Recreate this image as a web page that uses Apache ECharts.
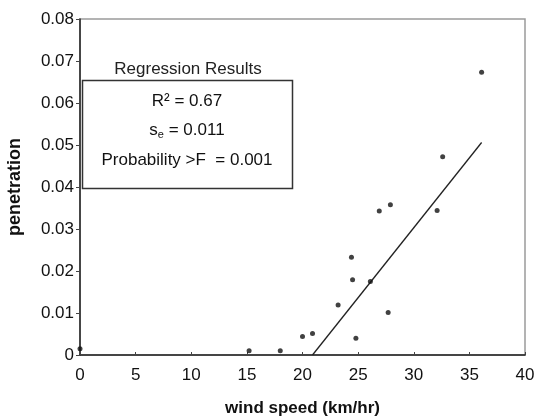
<!DOCTYPE html>
<html><head><meta charset="utf-8">
<script src="https://cdn.jsdelivr.net/npm/echarts@6/dist/echarts.min.js"></script>
<style>html,body{margin:0;padding:0;background:#fff}#c{width:552px;height:418px}</style>
</head><body><div id="c"></div>
<script>
var windSpeed   = [0, 15.2, 18.0, 20.0, 20.9, 23.2, 24.4, 24.5, 24.8, 26.1, 26.9, 27.9, 27.7, 32.1, 32.6, 36.1];
var penetration = [0.0015, 0.0010, 0.0010, 0.0044, 0.0051, 0.0119, 0.0233, 0.0179, 0.0040, 0.0175, 0.0343, 0.0358, 0.0101, 0.0344, 0.0472, 0.0673];
var fitX = [20.9, 36.1];
var fitY = [0, 0.0506];
var xTicks = [0,5,10,15,20,25,30,35,40];
var yTicks = [0,0.01,0.02,0.03,0.04,0.05,0.06,0.07,0.08];
var statsTitle = 'Regression Results';
var statsLines = ['R² = 0.67', 's{sub|e} = 0.011', 'Probability >F  = 0.001'];

var pts = windSpeed.map(function(x,i){return [x, penetration[i]];});
var fit = fitX.map(function(x,i){return [x, fitY[i]];});
var F = 'Liberation Sans, Arial, sans-serif';
var chart = echarts.init(document.getElementById('c'), null, {renderer:'canvas'});
chart.setOption({
  animation:false,
  backgroundColor:'#fff',
  grid:{left:80,right:27,top:19,bottom:63,show:true,borderColor:'#9a9a9a',borderWidth:1.5,backgroundColor:'transparent',
    containLabel:false,outerBoundsMode:'none'},
  xAxis:{type:'value',min:xTicks[0],max:xTicks[xTicks.length-1],interval:5,
    name:'wind speed (km/hr)',nameLocation:'middle',nameGap:45,
    nameTextStyle:{fontFamily:F,fontSize:17,fontWeight:'bold',color:'#111'},
    axisLine:{lineStyle:{color:'#222',width:1.5}},
    axisTick:{show:true,inside:true,length:3,lineStyle:{color:'#444'}},
    axisLabel:{fontFamily:F,fontSize:17,color:'#111',margin:12},
    splitLine:{show:false}},
  yAxis:{type:'value',min:yTicks[0],max:yTicks[yTicks.length-1],interval:0.01,
    name:'penetration',nameLocation:'middle',nameGap:56,nameRotate:90,
    nameTextStyle:{fontFamily:F,fontSize:18,fontWeight:'bold',color:'#111'},
    axisLine:{lineStyle:{color:'#222',width:1.5}},
    axisTick:{show:true,length:4,lineStyle:{color:'#444'}},
    axisLabel:{fontFamily:F,fontSize:17,color:'#111',margin:6,
      formatter:function(v){return v===0?'0':v.toFixed(2);}},
    splitLine:{show:false}},
  series:[
    {type:'scatter',data:pts,symbolSize:5,itemStyle:{color:'#111'},z:3},
    {type:'line',data:fit,showSymbol:false,symbol:'none',lineStyle:{color:'#222',width:1.3},z:2}
  ],
  graphic:[
    {type:'rect',shape:{x:82.5,y:80.5,width:210,height:108},style:{fill:'#fff',stroke:'#333',lineWidth:1.5},z:10},
    {type:'text',x:188,y:69,style:{text:statsTitle,font:'17px '+F,fill:'#222',align:'center',verticalAlign:'middle'},z:11},
    {type:'text',x:187,y:101,style:{text:statsLines[0],font:'17px '+F,fill:'#111',align:'center',verticalAlign:'middle'},z:11},
    {type:'text',x:187,y:130,style:{text:statsLines[1],font:'17px '+F,fill:'#111',align:'center',verticalAlign:'middle',
      rich:{sub:{fontSize:11,fontFamily:F,padding:[10,0,0,0],verticalAlign:'bottom'}}},z:11},
    {type:'text',x:187,y:160,style:{text:statsLines[2],font:'17px '+F,fill:'#111',align:'center',verticalAlign:'middle'},z:11}
  ]
});
</script></body></html>
